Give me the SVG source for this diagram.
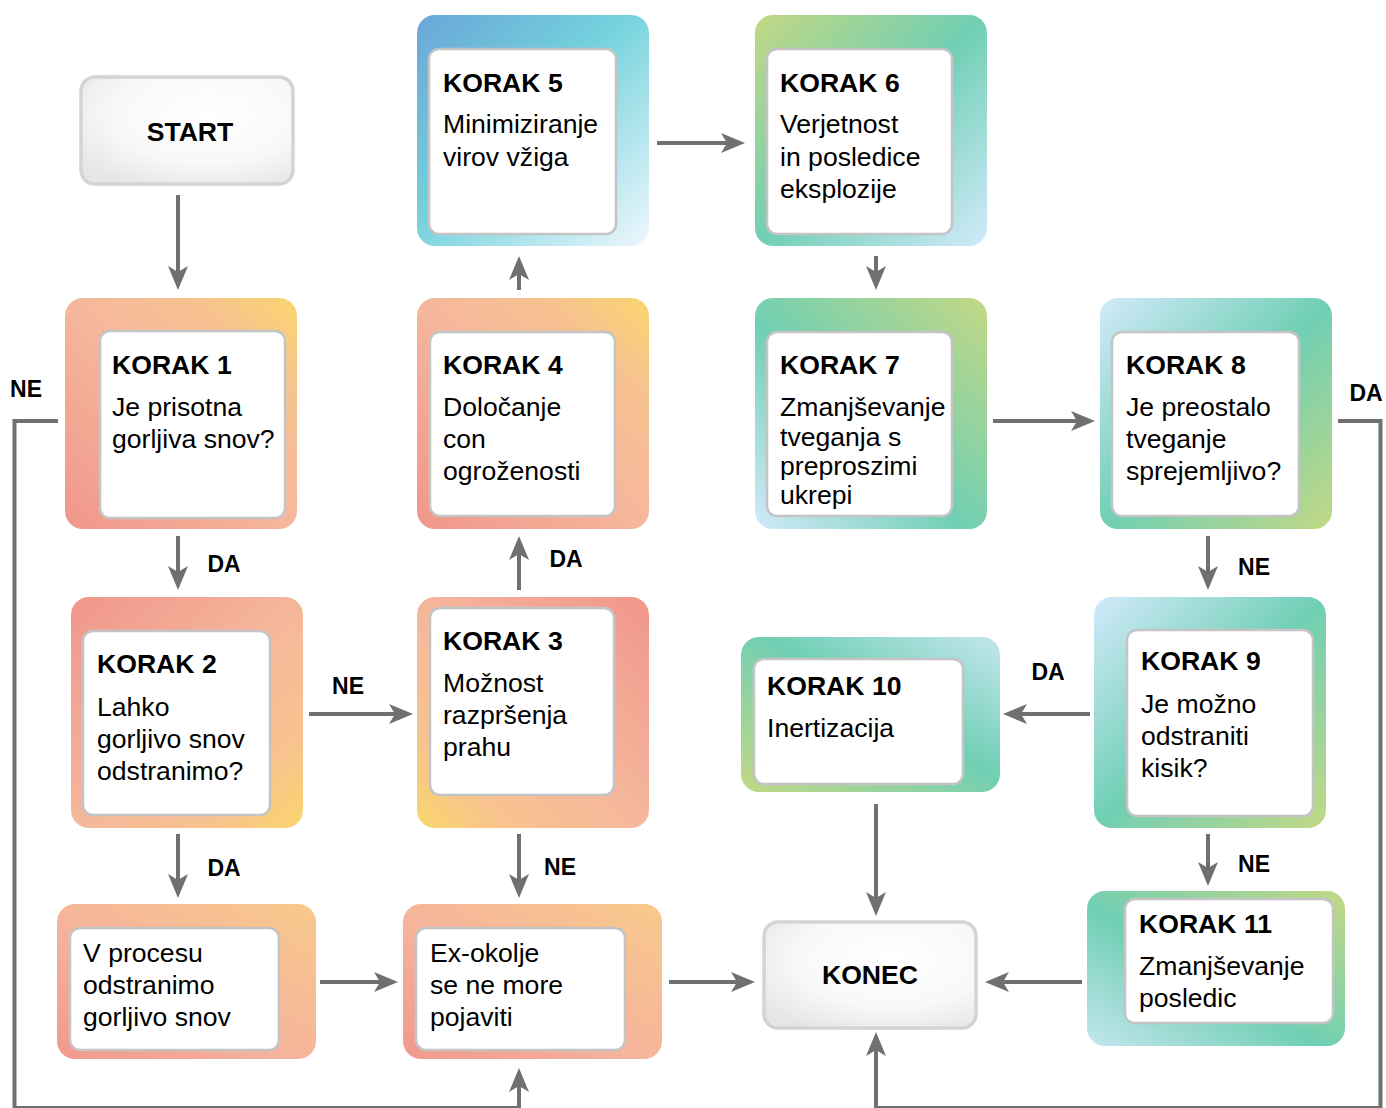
<svg xmlns="http://www.w3.org/2000/svg" width="1386" height="1108" viewBox="0 0 1386 1108">
<defs>
<style>
text{font-family:"Liberation Sans",Arial,sans-serif;fill:#000}
.t{font-size:26.6px;font-weight:bold}
.b{font-size:26.6px}
.lbl{font-size:23px;font-weight:bold}
.inner{fill:#fff;stroke:#c4c4c4;stroke-width:2.5}
.term{stroke:#d4d4d4;stroke-width:3.5;fill:url(#gTerm)}
.con{fill:none;stroke:#707070;stroke-width:4;marker-end:url(#arr)}
.loop{fill:none;stroke:#707070;stroke-width:4;stroke-linejoin:miter;marker-end:url(#arr)}
</style>
<marker id="arr" markerUnits="userSpaceOnUse" viewBox="0 0 24 20" refX="14" refY="10" markerWidth="24" markerHeight="20" orient="auto">
<path d="M0,0 L24,10 L0,20 L6,10 Z" fill="#707070"/>
</marker>
<radialGradient id="gTerm" cx="0.6" cy="0.35" r="0.75">
<stop offset="0" stop-color="#ffffff"/>
<stop offset="0.6" stop-color="#f8f8f8"/>
<stop offset="1" stop-color="#e6e6e6"/>
</radialGradient>
<linearGradient id="gWarmBLTR" x1="0" y1="1" x2="1" y2="0">
<stop offset="0" stop-color="#f0968a"/>
<stop offset="0.5" stop-color="#f5b79c"/>
<stop offset="0.8" stop-color="#f7c38e"/>
<stop offset="1" stop-color="#fad66c"/>
</linearGradient>
<linearGradient id="gWarmTLBR" x1="0" y1="0" x2="1" y2="1">
<stop offset="0" stop-color="#f0968a"/>
<stop offset="0.5" stop-color="#f5b79c"/>
<stop offset="0.8" stop-color="#f7c38e"/>
<stop offset="1" stop-color="#fad66c"/>
</linearGradient>
<linearGradient id="gWarmTRBL" x1="1" y1="0" x2="0" y2="1">
<stop offset="0" stop-color="#f0968a"/>
<stop offset="0.5" stop-color="#f5b79c"/>
<stop offset="0.8" stop-color="#f7c38e"/>
<stop offset="1" stop-color="#fad66c"/>
</linearGradient>
<linearGradient id="gWarmSoft" x1="0" y1="1" x2="1" y2="0">
<stop offset="0" stop-color="#f1998b"/>
<stop offset="0.45" stop-color="#f5b49b"/>
<stop offset="1" stop-color="#f8c98c"/>
</linearGradient>
<linearGradient id="gK5" x1="0" y1="0" x2="1" y2="1">
<stop offset="0" stop-color="#6aa6d8"/>
<stop offset="0.45" stop-color="#74d2dc"/>
<stop offset="1" stop-color="#eef7fd"/>
</linearGradient>
<linearGradient id="gK6" x1="0" y1="0" x2="1" y2="1">
<stop offset="0" stop-color="#c2d884"/>
<stop offset="0.5" stop-color="#70cfb4"/>
<stop offset="1" stop-color="#d2eafb"/>
</linearGradient>
<linearGradient id="gK7" x1="0" y1="1" x2="1" y2="0">
<stop offset="0" stop-color="#d2eafb"/>
<stop offset="0.45" stop-color="#70cfb4"/>
<stop offset="1" stop-color="#c2d884"/>
</linearGradient>
<linearGradient id="gK8" x1="0" y1="0" x2="1" y2="1">
<stop offset="0" stop-color="#d2eafb"/>
<stop offset="0.5" stop-color="#70cfb4"/>
<stop offset="1" stop-color="#c2d884"/>
</linearGradient>
<linearGradient id="gK10" x1="0" y1="1" x2="1" y2="0">
<stop offset="0" stop-color="#c2d884"/>
<stop offset="0.55" stop-color="#70cfb4"/>
<stop offset="1" stop-color="#c4e6ee"/>
</linearGradient>
<linearGradient id="gK11" x1="0" y1="1" x2="1" y2="0">
<stop offset="0" stop-color="#c4e6ee"/>
<stop offset="0.45" stop-color="#70cfb4"/>
<stop offset="1" stop-color="#c2d884"/>
</linearGradient>
</defs>
<rect width="1386" height="1108" fill="#ffffff"/>

<g id="connectors">
<path class="con" d="M178,195 V280"/>
<path class="con" d="M178,536 V580"/>
<path class="con" d="M178,834 V888"/>
<path class="con" d="M309,714 H403"/>
<path class="con" d="M519,590 V546"/>
<path class="con" d="M519,290 V266"/>
<path class="con" d="M519,834 V888"/>
<path class="con" d="M320,982 H388"/>
<path class="con" d="M669,982 H745"/>
<path class="con" d="M657,143 H735"/>
<path class="con" d="M876,256 V280"/>
<path class="con" d="M993,421 H1085"/>
<path class="con" d="M1208,536 V580"/>
<path class="con" d="M1090,714 H1013"/>
<path class="con" d="M1208,834 V876"/>
<path class="con" d="M876,804 V906"/>
<path class="con" d="M1082,982 H995"/>
<path class="loop" d="M58,421 H14.5 V1108 H519 V1078"/>
<path class="loop" d="M1338,421 H1380.5 V1108 H876 V1042"/>
<text class="lbl" x="224" y="572" text-anchor="middle">DA</text>
<text class="lbl" x="224" y="876" text-anchor="middle">DA</text>
<text class="lbl" x="348" y="694" text-anchor="middle">NE</text>
<text class="lbl" x="566" y="567" text-anchor="middle">DA</text>
<text class="lbl" x="560" y="875" text-anchor="middle">NE</text>
<text class="lbl" x="1254" y="575" text-anchor="middle">NE</text>
<text class="lbl" x="1048" y="680" text-anchor="middle">DA</text>
<text class="lbl" x="1254" y="872" text-anchor="middle">NE</text>
<text class="lbl" x="26" y="397" text-anchor="middle">NE</text>
<text class="lbl" x="1366" y="401" text-anchor="middle">DA</text>
</g>

<g id="start">
<rect class="term" x="81" y="77" width="212" height="107" rx="14"/>
<text class="t" x="190" y="141" text-anchor="middle">START</text>
</g>

<g id="korak1">
<rect x="65" y="298" width="232" height="231" rx="18" fill="url(#gWarmBLTR)"/>
<rect class="inner" x="100" y="331" width="185" height="187" rx="10"/>
<text class="t" x="112" y="374">KORAK 1</text>
<text class="b" x="112" y="416">Je prisotna</text>
<text class="b" x="112" y="448">gorljiva snov?</text>
</g>

<g id="korak2">
<rect x="71" y="597" width="232" height="231" rx="18" fill="url(#gWarmTLBR)"/>
<rect class="inner" x="83" y="631" width="187" height="184" rx="10"/>
<text class="t" x="97" y="673">KORAK 2</text>
<text class="b" x="97" y="716">Lahko</text>
<text class="b" x="97" y="748">gorljivo snov</text>
<text class="b" x="97" y="780">odstranimo?</text>
</g>

<g id="korak3">
<rect x="417" y="597" width="232" height="231" rx="18" fill="url(#gWarmTRBL)"/>
<rect class="inner" x="430" y="608" width="184" height="187" rx="10"/>
<text class="t" x="443" y="650">KORAK 3</text>
<text class="b" x="443" y="692">Možnost</text>
<text class="b" x="443" y="724">razpršenja</text>
<text class="b" x="443" y="756">prahu</text>
</g>

<g id="korak4">
<rect x="417" y="298" width="232" height="231" rx="18" fill="url(#gWarmBLTR)"/>
<rect class="inner" x="430" y="332" width="185" height="184" rx="10"/>
<text class="t" x="443" y="374">KORAK 4</text>
<text class="b" x="443" y="416">Določanje</text>
<text class="b" x="443" y="448">con</text>
<text class="b" x="443" y="480">ogroženosti</text>
</g>

<g id="korak5">
<rect x="417" y="15" width="232" height="231" rx="18" fill="url(#gK5)"/>
<rect class="inner" x="429" y="49" width="187" height="185" rx="10"/>
<text class="t" x="443" y="92">KORAK 5</text>
<text class="b" x="443" y="133">Minimiziranje</text>
<text class="b" x="443" y="166">virov vžiga</text>
</g>

<g id="korak6">
<rect x="755" y="15" width="232" height="231" rx="18" fill="url(#gK6)"/>
<rect class="inner" x="767" y="49" width="185" height="185" rx="10"/>
<text class="t" x="780" y="92">KORAK 6</text>
<text class="b" x="780" y="133">Verjetnost</text>
<text class="b" x="780" y="166">in posledice</text>
<text class="b" x="780" y="198">eksplozije</text>
</g>

<g id="korak7">
<rect x="755" y="298" width="232" height="231" rx="18" fill="url(#gK7)"/>
<rect class="inner" x="767" y="332" width="185" height="184" rx="10"/>
<text class="t" x="780" y="374">KORAK 7</text>
<text class="b" x="780" y="416">Zmanjševanje</text>
<text class="b" x="780" y="446">tveganja s</text>
<text class="b" x="780" y="475">preproszimi</text>
<text class="b" x="780" y="504">ukrepi</text>
</g>

<g id="korak8">
<rect x="1100" y="298" width="232" height="231" rx="18" fill="url(#gK8)"/>
<rect class="inner" x="1112" y="332" width="187" height="184" rx="10"/>
<text class="t" x="1126" y="374">KORAK 8</text>
<text class="b" x="1126" y="416">Je preostalo</text>
<text class="b" x="1126" y="448">tveganje</text>
<text class="b" x="1126" y="480">sprejemljivo?</text>
</g>

<g id="korak9">
<rect x="1094" y="597" width="232" height="231" rx="18" fill="url(#gK8)"/>
<rect class="inner" x="1127" y="630" width="186" height="186" rx="10"/>
<text class="t" x="1141" y="670">KORAK 9</text>
<text class="b" x="1141" y="713">Je možno</text>
<text class="b" x="1141" y="745">odstraniti</text>
<text class="b" x="1141" y="777">kisik?</text>
</g>

<g id="korak10">
<rect x="741" y="637" width="259" height="155" rx="18" fill="url(#gK10)"/>
<rect class="inner" x="754" y="659" width="209" height="125" rx="10"/>
<text class="t" x="767" y="695">KORAK 10</text>
<text class="b" x="767" y="737">Inertizacija</text>
</g>

<g id="korak11">
<rect x="1087" y="891" width="258" height="155" rx="18" fill="url(#gK11)"/>
<rect class="inner" x="1125" y="899" width="208" height="124" rx="10"/>
<text class="t" x="1139" y="933">KORAK 11</text>
<text class="b" x="1139" y="975">Zmanjševanje</text>
<text class="b" x="1139" y="1007">posledic</text>
</g>

<g id="odstranimo">
<rect x="57" y="904" width="259" height="155" rx="18" fill="url(#gWarmSoft)"/>
<rect class="inner" x="70" y="928" width="209" height="122" rx="10"/>
<text class="b" x="83" y="962">V procesu</text>
<text class="b" x="83" y="994">odstranimo</text>
<text class="b" x="83" y="1026">gorljivo snov</text>
</g>

<g id="exokolje">
<rect x="403" y="904" width="259" height="155" rx="18" fill="url(#gWarmSoft)"/>
<rect class="inner" x="416" y="928" width="209" height="122" rx="10"/>
<text class="b" x="430" y="962">Ex-okolje</text>
<text class="b" x="430" y="994">se ne more</text>
<text class="b" x="430" y="1026">pojaviti</text>
</g>

<g id="konec">
<rect class="term" x="764" y="922" width="212" height="106" rx="14"/>
<text class="t" x="870" y="984" text-anchor="middle">KONEC</text>
</g>
</svg>
